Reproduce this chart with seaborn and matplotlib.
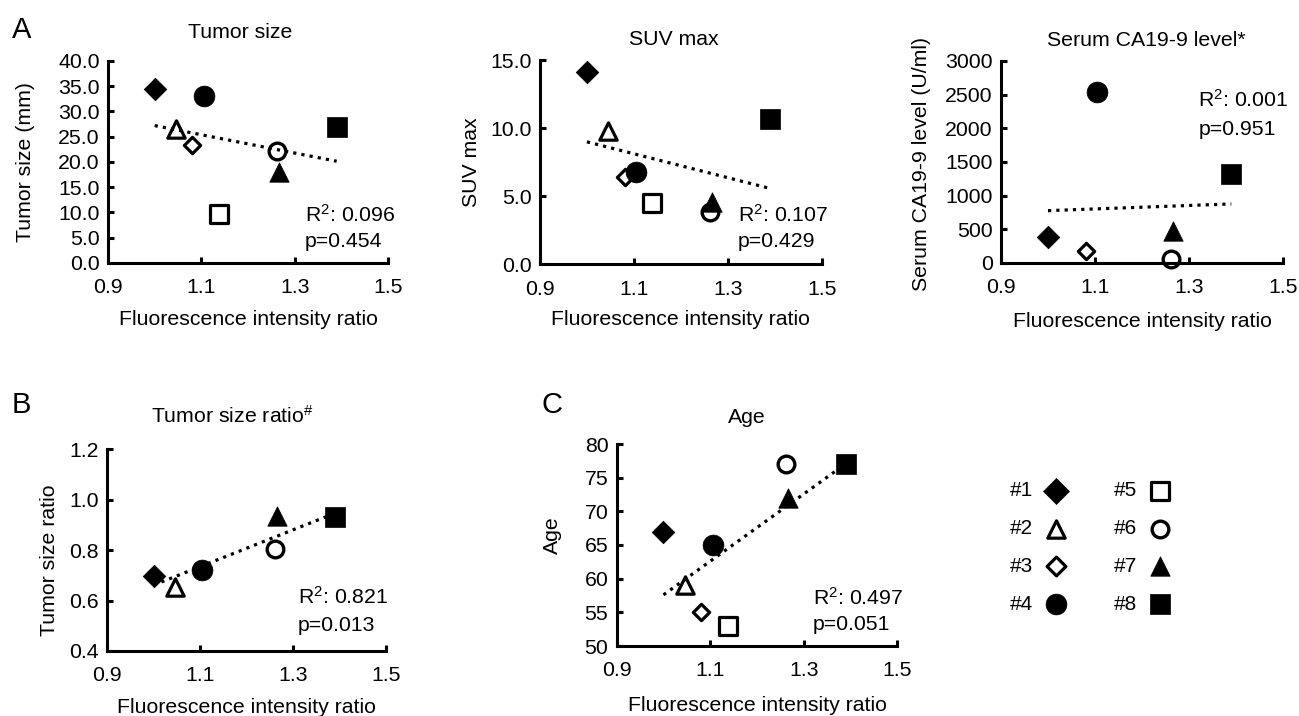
import numpy as np
import pandas as pd
import matplotlib
matplotlib.use("Agg")
import matplotlib.pyplot as plt
import seaborn as sns

# ---------------- data ----------------
patients = ["#1", "#2", "#3", "#4", "#5", "#6", "#7", "#8"]
fluorescence_ratio = [1.000, 1.045, 1.080, 1.105, 1.138, 1.262, 1.266, 1.390]
tumor_size_mm = [34.4, 26.6, 23.4, 33.1, 9.7, 22.2, 18.0, 27.0]
suv_max = [14.1, 9.8, 6.4, 6.75, 4.5, 3.85, 4.6, 10.65]
serum_ca19_9 = [385, np.nan, 173, 2535, np.nan, 64, 470, 1320]
tumor_size_ratio = [0.699, 0.655, np.nan, 0.721, np.nan, 0.805, 0.935, 0.933]
age = [67, 59, 55, 65, 53, 77, 72, 77]

x_ticks = [0.9, 1.1, 1.3, 1.5]
tumor_size_ticks = [0, 5, 10, 15, 20, 25, 30, 35, 40]
suv_ticks = [0, 5, 10, 15]
ca199_ticks = [0, 500, 1000, 1500, 2000, 2500, 3000]
ratio_ticks = [0.4, 0.6, 0.8, 1.0, 1.2]
age_ticks = [50, 55, 60, 65, 70, 75, 80]

r2_values = ["0.096", "0.107", "0.001", "0.821", "0.497"]
p_values = ["0.454", "0.429", "0.951", "0.013", "0.051"]

# ---------------- style ----------------
sns.set_theme(style="ticks")
plt.rcParams["font.family"] = ["Liberation Sans", "DejaVu Sans"]
plt.rcParams["mathtext.fontset"] = "custom"
plt.rcParams["mathtext.rm"] = "Liberation Sans"
plt.rcParams["mathtext.it"] = "Liberation Sans:italic"
plt.rcParams["mathtext.bf"] = "Liberation Sans:bold"
plt.rcParams["mathtext.default"] = "regular"
for key in ("text.color", "axes.labelcolor", "xtick.color", "ytick.color",
            "xtick.labelcolor", "ytick.labelcolor", "axes.edgecolor"):
    plt.rcParams[key] = "black"

FS = 15.3
# marker, filled, markersize (pt), edge width
marker_styles = {
    "#1": ("D", True, 11.5, 0.5),
    "#2": ("^", False, 12.5, 2.3),
    "#3": ("D", False, 8.3, 2.3),
    "#4": ("o", True, 15.0, 0.5),
    "#5": ("s", False, 12.5, 2.3),
    "#6": ("o", False, 12.0, 2.4),
    "#7": ("^", True, 14.0, 0.5),
    "#8": ("s", True, 14.5, 0.5),
}

W, H = 1299, 716
fig = plt.figure(figsize=(W / 100, H / 100), dpi=100)


def px_rect(left, top, right, bottom):
    return [left / W, 1 - bottom / H, (right - left) / W, (bottom - top) / H]


panels = [
    dict(y=tumor_size_mm, title="Tumor size", ylabel="Tumor size (mm)",
         yticks=tumor_size_ticks, yfmt="{:.1f}", rect=px_rect(108, 61, 388, 263),
         title_xy=(0.471, 1.114), ylab_x=-0.261, ylab_y=0.5, xlab_y=-0.233,
         stat_xy=(0.704, 0.204, 0.081)),
    dict(y=suv_max, title="SUV max", ylabel="SUV max",
         yticks=suv_ticks, yfmt="{:.1f}", rect=px_rect(540, 60, 821.7, 264.3),
         title_xy=(0.474, 1.075), ylab_x=-0.209, ylab_y=0.5, xlab_y=-0.224,
         stat_xy=(0.703, 0.209, 0.086)),
    dict(y=serum_ca19_9, title="Serum CA19-9 level*", ylabel="Serum CA19-9 level (U/ml)",
         yticks=ca199_ticks, yfmt="{:.0f}", rect=px_rect(1001, 61, 1283, 263),
         title_xy=(0.517, 1.076), ylab_x=-0.249, ylab_y=0.49, xlab_y=-0.241,
         stat_xy=(0.70, 0.771, 0.634)),
    dict(y=tumor_size_ratio, title="Tumor size ratio$^{\\#}$", ylabel="Tumor size ratio",
         yticks=ratio_ticks, yfmt="{:.1f}", rect=px_rect(107.3, 449.3, 385.7, 651),
         title_xy=(0.448, 1.129), ylab_x=-0.173, ylab_y=0.45, xlab_y=-0.235,
         stat_xy=(0.684, 0.236, 0.099)),
    dict(y=age, title="Age", ylabel="Age",
         yticks=age_ticks, yfmt="{:.0f}", rect=px_rect(616.7, 444, 897.3, 646),
         title_xy=(0.464, 1.102), ylab_x=-0.196, ylab_y=0.55, xlab_y=-0.248,
         stat_xy=(0.70, 0.203, 0.079)),
]

for k, pan in enumerate(panels):
    ax = fig.add_axes(pan["rect"])
    df = pd.DataFrame({"patient": patients, "x": fluorescence_ratio, "y": pan["y"]})
    for _, row in df.dropna().iterrows():
        m, filled, ms, lw = marker_styles[row["patient"]]
        sns.scatterplot(x=[row["x"]], y=[row["y"]], ax=ax, marker=m, s=ms ** 2,
                        color="black" if filled else "white", edgecolor="black",
                        linewidth=lw, clip_on=False, zorder=2, legend=False)
    sns.regplot(data=df, x="x", y="y", ax=ax, scatter=False, ci=None, truncate=True,
                line_kws=dict(color="black", lw=2.3, linestyle=(0, (1, 1.6)), zorder=3))
    ax.set_xlim(x_ticks[0], x_ticks[-1])
    ax.set_ylim(pan["yticks"][0], pan["yticks"][-1])
    ax.set_xticks(x_ticks)
    ax.set_xticklabels([f"{t:.1f}" for t in x_ticks])
    ax.set_yticks(pan["yticks"])
    ax.set_yticklabels([pan["yfmt"].format(t) for t in pan["yticks"]])
    sns.despine(ax=ax)
    for s in ("left", "bottom"):
        ax.spines[s].set_linewidth(2.2)
        ax.spines[s].set_color("black")
    ax.tick_params(direction="in", length=4, width=2.2, labelsize=FS, colors="black")
    ax.tick_params(axis="x", pad=11)
    ax.tick_params(axis="y", pad=6)
    ax.set_xlabel("Fluorescence intensity ratio", fontsize=FS, color="black")
    ax.set_ylabel(pan["ylabel"], fontsize=FS, color="black")
    ax.xaxis.set_label_coords(0.5, pan["xlab_y"])
    ax.yaxis.set_label_coords(pan["ylab_x"], pan["ylab_y"])
    tx, ty = pan["title_xy"]
    ax.text(tx, ty, pan["title"], transform=ax.transAxes, ha="center", va="baseline",
            fontsize=FS)
    sx, sy1, sy2 = pan["stat_xy"]
    ax.text(sx, sy1, f"R$^2$: {r2_values[k]}", transform=ax.transAxes, ha="left",
            va="baseline", fontsize=FS)
    ax.text(sx, sy2, f"p={p_values[k]}", transform=ax.transAxes, ha="left",
            va="baseline", fontsize=FS)

# panel letters
for letter, (lx, ly) in zip(["A", "B", "C"], [(12, 38), (12, 413), (541.7, 413)]):
    fig.text(lx / W, 1 - ly / H, letter, fontsize=21, ha="left", va="baseline")

# legend (manual key grid)
lax = fig.add_axes([0, 0, 1, 1])
lax.set_xlim(0, W)
lax.set_ylim(H, 0)
lax.axis("off")
for i, pid in enumerate(patients):
    col, row = i // 4, i % 4
    tx = 1010 + col * 104
    mx = 1055.7 + col * 104.3
    my = 491 + row * 37.7
    m, filled, ms, lw = marker_styles[pid]
    lax.scatter([mx], [my], marker=m, s=(ms * (1.15 if m == "D" else 1.0)) ** 2,
                color="black" if filled else "white", edgecolor="black", linewidths=lw)
    lax.text(tx, my, pid, fontsize=15, ha="left", va="center")

fig.savefig("out.png", dpi=100)
